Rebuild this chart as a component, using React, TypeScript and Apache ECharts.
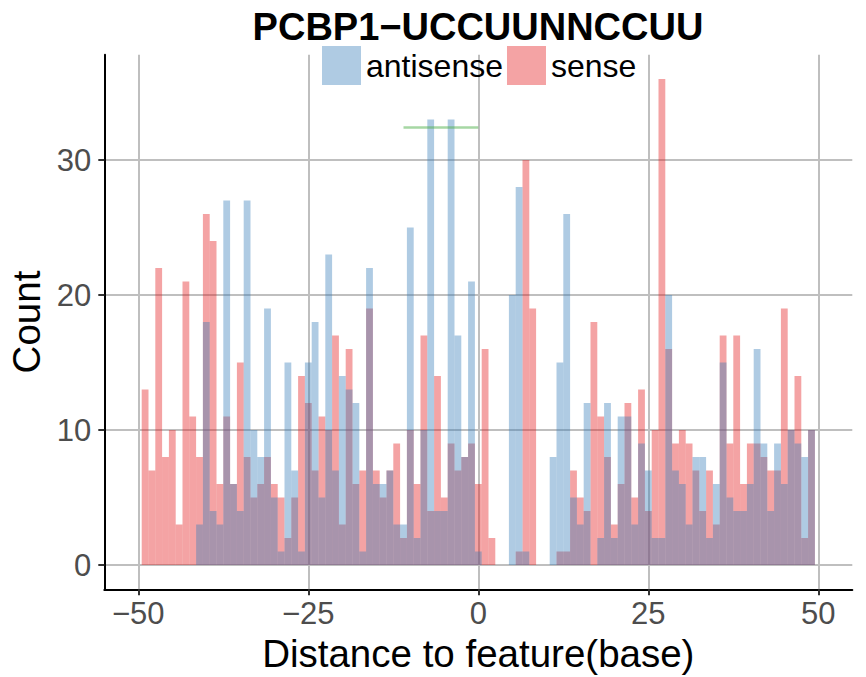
import React, { useEffect, useRef } from "react";
import * as echarts from "echarts";

// Bin centres (distance to feature, base)
const binCenters = [
  -49, -48, -47, -46, -45, -44, -43, -42, -41, -40,
  -39, -38, -37, -36, -35, -34, -33, -32, -31, -30,
  -29, -28, -27, -26, -25, -24, -23, -22, -21, -20,
  -19, -18, -17, -16, -15, -14, -13, -12, -11, -10,
  -9, -8, -7, -6, -5, -4, -3, -2, -1, 0,
  1, 2, 3, 4, 5, 6, 7, 8, 9, 10,
  11, 12, 13, 14, 15, 16, 17, 18, 19, 20,
  21, 22, 23, 24, 25, 26, 27, 28, 29, 30,
  31, 32, 33, 34, 35, 36, 37, 38, 39, 40,
  41, 42, 43, 44, 45, 46, 47, 48, 49,
];

const senseCounts = [
  13, 7, 22, 8, 10, 3, 21, 11, 8, 26,
  24, 6, 11, 6, 15, 8, 5, 6, 8, 6,
  5, 2, 5, 14, 12, 7, 11, 10, 17, 3,
  16, 6, 7, 19, 7, 5, 7, 9, 2, 10,
  6, 17, 4, 14, 5, 9, 7, 8, 9, 6,
  16, 2, 0, 0, 0, 1, 30, 19, 0, 0,
  0, 1, 1, 7, 5, 4, 18, 11, 8, 3,
  6, 12, 5, 13, 4, 10, 36, 16, 9, 10,
  9, 7, 4, 7, 3, 17, 9, 17, 6, 9,
  9, 8, 7, 7, 19, 10, 14, 2, 10,
];

const antisenseCounts = [
  0, 0, 0, 0, 0, 0, 0, 0, 3, 18,
  4, 3, 27, 6, 4, 27, 10, 8, 19, 5,
  1, 15, 7, 1, 15, 18, 5, 23, 7, 14,
  13, 12, 1, 22, 6, 6, 7, 3, 3, 25,
  2, 10, 33, 4, 4, 33, 17, 8, 21, 1,
  0, 0, 0, 0, 20, 28, 1, 0, 0, 0,
  8, 15, 26, 5, 3, 12, 0, 2, 12, 2,
  11, 11, 3, 9, 7, 2, 2, 20, 7, 6,
  3, 8, 8, 2, 6, 15, 5, 4, 4, 6,
  16, 9, 4, 9, 6, 10, 9, 8, 10,
];

// Feature marker segment
const featureX = [-11, 0];
const featureY = 32.4;

const xTicks = [-50, -25, 0, 25, 50];
const yTicks = [0, 10, 20, 30];

const FONT = "Liberation Sans, Arial, Helvetica, sans-serif";
const BLUE = "rgba(55,126,184,0.4)";
const PINK = "rgba(228,26,28,0.4)";
const GREEN = "rgba(77,175,74,0.5)";
const GRID = "#BFBFBF";

const fmt = (v: number) => (v < 0 ? "\u2212" + Math.abs(v) : String(v));

function histSeries(name: string, values: number[], color: string) {
  return {
    type: "custom",
    name,
    itemStyle: { color },
    data: binCenters.map((x, i) => [x, values[i]]),
    encode: { x: 0, y: 1 },
    renderItem: (params: any, api: any) => {
      const x = api.value(0);
      const y = api.value(1);
      if (!y) return null;
      const p1 = api.coord([x - 0.5, y]);
      const p2 = api.coord([x + 0.5, 0]);
      return {
        type: "rect",
        shape: { x: p1[0], y: p1[1], width: p2[0] - p1[0], height: p2[1] - p1[1] },
        style: { fill: color },
      };
    },
  };
}

export default function App() {
  const ref = useRef<HTMLDivElement>(null);
  useEffect(() => {
    if (!ref.current) return;
    const chart = echarts.init(ref.current, null, { renderer: "svg" });
    chart.setOption({
      animation: false,
      backgroundColor: "#ffffff",
      textStyle: { fontFamily: FONT },
      title: {
        text: "PCBP1\u2212UCCUUNNCCUU",
        left: 478,
        top: 8,
        textAlign: "center",
        padding: 0,
        textStyle: { fontFamily: FONT, fontWeight: "bold", fontSize: 38, color: "#000" },
      },
      legend: {
        data: ["antisense", "sense"],
        left: 322,
        top: 46,
        padding: 0,
        itemWidth: 39,
        itemHeight: 39,
        itemGap: 4,
        icon: "rect",
        textStyle: { fontFamily: FONT, fontSize: 32, color: "#000" },
      },
      grid: {
        left: 104.3,
        right: 13.7,
        top: 54.7,
        bottom: 87.7,
        containLabel: false,
        outerBoundsMode: "none",
      },
      xAxis: {
        type: "value",
        min: -55,
        max: 55,
        name: "Distance to feature(base)",
        nameLocation: "middle",
        nameGap: 44,
        nameTextStyle: { fontFamily: FONT, fontSize: 38.5, color: "#000" },
        axisLine: { onZero: false, lineStyle: { color: "#000", width: 2 } },
        axisTick: { show: true, customValues: xTicks, length: 6, lineStyle: { color: "#333", width: 2 } },
        axisLabel: {
          customValues: xTicks,
          formatter: fmt,
          fontFamily: FONT,
          fontSize: 31,
          color: "#4D4D4D",
          margin: 9,
        },
        splitLine: { show: true, lineStyle: { color: GRID, width: 2 } },
      },
      yAxis: {
        type: "value",
        min: -1.8,
        max: 37.8,
        name: "Count",
        nameLocation: "middle",
        nameGap: 57,
        nameTextStyle: { fontFamily: FONT, fontSize: 38.5, color: "#000" },
        axisLine: { show: true, onZero: false, lineStyle: { color: "#000", width: 2 } },
        axisTick: { show: true, customValues: yTicks, length: 6, lineStyle: { color: "#333", width: 2 } },
        axisLabel: {
          customValues: yTicks,
          formatter: fmt,
          fontFamily: FONT,
          fontSize: 31,
          color: "#4D4D4D",
          margin: 13,
        },
        splitLine: { show: true, lineStyle: { color: GRID, width: 2 } },
      },
      series: [
        histSeries("sense", senseCounts, PINK),
        histSeries("antisense", antisenseCounts, BLUE),
        {
          type: "line",
          name: "feature",
          data: featureX.map((x) => [x, featureY]),
          symbol: "none",
          lineStyle: { color: GREEN, width: 2.5 },
          silent: true,
        },
      ],
    });
    return () => chart.dispose();
  }, []);
  return (
    <div
      ref={ref}
      style={{ position: "absolute", left: 0, top: 0, width: 866, height: 677 }}
    />
  );
}
